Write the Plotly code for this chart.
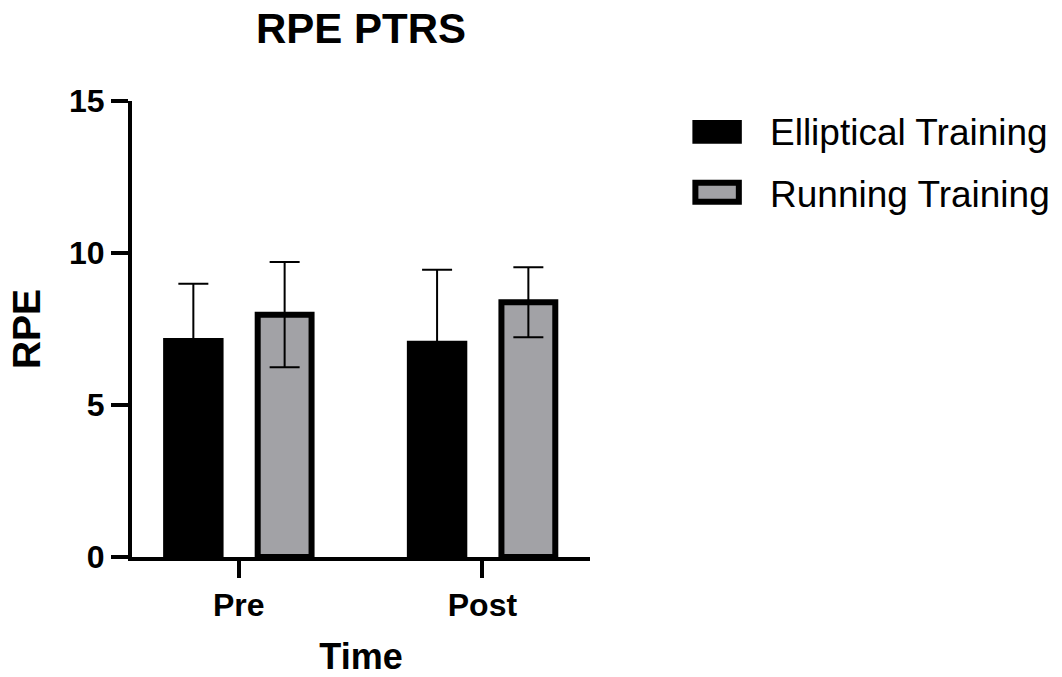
import plotly.graph_objects as go

# Data
categories = ["Pre", "Post"]
series_names = ["Elliptical Training", "Running Training"]
elliptical_mean = [7.20, 7.11]
elliptical_err = [1.79, 2.34]
running_mean = [7.97, 8.38]
running_err = [1.73, 1.15]
y_ticks = [0, 5, 10, 15]

FONT = "Liberation Sans, Arial, sans-serif"
GRAY = "#A2A2A6"

W, H = 1062, 677
L, R, T, B = 131.5, 590, 101.4, 557

fig = go.Figure()
fig.add_trace(go.Bar(
    x=categories, y=elliptical_mean, name=series_names[0],
    width=0.248, offset=-0.31,
    marker=dict(color="black", line=dict(width=0)),
    error_y=dict(type="data", array=elliptical_err, visible=True,
                 color="black", thickness=2, width=15),
    showlegend=False,
))
fig.add_trace(go.Bar(
    x=categories, y=running_mean, name=series_names[1],
    width=0.221, offset=0.078,
    marker=dict(color=GRAY, line=dict(width=6, color="black")),
    error_y=dict(type="data", array=running_err, visible=True,
                 color="black", thickness=2, width=15),
    showlegend=False,
))

def px_x(px):
    return (px - L) / (R - L)

def px_y(py):
    return (B - py) / (B - T)

shapes = [
    dict(type="rect", xref="paper", yref="paper",
         x0=px_x(692.5), x1=px_x(742), y0=px_y(144), y1=px_y(120.5),
         fillcolor="black", line=dict(width=0)),
    dict(type="rect", xref="paper", yref="paper",
         x0=px_x(695.5), x1=px_x(739), y0=px_y(202), y1=px_y(183),
         fillcolor=GRAY, line=dict(width=6, color="black")),
]
annotations = [
    dict(text=series_names[0], xref="paper", yref="paper",
         x=px_x(768), y=px_y(132.5), xanchor="left", yanchor="middle",
         showarrow=False, font=dict(family=FONT, size=37, color="black")),
    dict(text=series_names[1], xref="paper", yref="paper",
         x=px_x(768), y=px_y(194.5), xanchor="left", yanchor="middle",
         showarrow=False, font=dict(family=FONT, size=37, color="black")),
]

fig.update_layout(
    width=W, height=H,
    margin=dict(l=L, r=W - R, t=T, b=H - B, pad=0, autoexpand=False),
    paper_bgcolor="white", plot_bgcolor="white",
    barmode="overlay",
    showlegend=False,
    title=dict(text="RPE PTRS", x=361 / W, xanchor="center",
               y=1 - 28.5 / H, yanchor="middle",
               font=dict(family=FONT, size=42, color="black", weight="bold")),
    shapes=shapes,
    annotations=annotations,
    xaxis=dict(
        type="category", range=[-0.4377, 1.4414],
        showline=True, linecolor="black", linewidth=4,
        ticks="outside", ticklen=17, tickwidth=4, tickcolor="black",
        showgrid=False, zeroline=False, automargin=False,
        tickfont=dict(family=FONT, size=32, color="black", weight="bold"),
        title=dict(text="Time", standoff=22,
                   font=dict(family=FONT, size=36, color="black", weight="bold")),
    ),
    yaxis=dict(
        range=[0, 15], tickvals=y_ticks, ticktext=[str(v) for v in y_ticks],
        showline=True, linecolor="black", linewidth=4,
        ticks="outside", ticklen=17, tickwidth=4, tickcolor="black",
        showgrid=False, zeroline=False, automargin=False,
        tickfont=dict(family=FONT, size=32, color="black", weight="bold"),
        title=dict(text="RPE", standoff=17,
                   font=dict(family=FONT, size=39, color="black", weight="bold")),
    ),
)

fig.write_html("out.html", config={"displayModeBar": False},
               post_script="document.body.style.margin='0px';")
